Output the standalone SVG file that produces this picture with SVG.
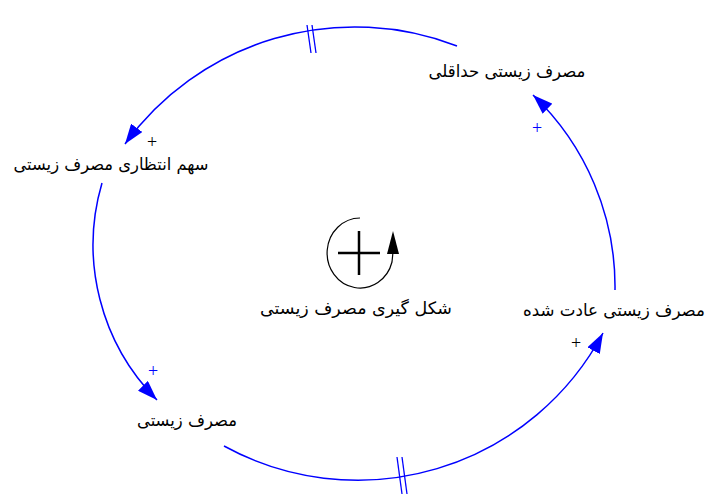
<svg xmlns="http://www.w3.org/2000/svg" width="707" height="495" viewBox="0 0 707 495">
<style>
.lbl{font-family:"DejaVu Sans","Noto Sans",sans-serif;font-size:17px;fill:#000;text-anchor:middle}
.pl{font-family:"Liberation Serif","DejaVu Serif",serif;font-size:18px;text-anchor:middle}
.link{fill:none;stroke:#0000ff;stroke-width:1.5}
.hash{stroke:#0000ff;stroke-width:1.3}
</style>
<defs>
<marker id="arr" viewBox="0 0 20 14" refX="20" refY="7" markerWidth="20" markerHeight="14" markerUnits="userSpaceOnUse" orient="auto">
<path d="M0,0 L20,7 L0,14 z" fill="#0000ff"/>
</marker>
</defs>
<rect width="707" height="495" fill="#fff"/>
<g id="connectors">
<path class="link" d="M457,46 A284,284 0 0,0 125,144" marker-end="url(#arr)"/>
<line class="hash" x1="307" y1="25" x2="311" y2="53"/>
<line class="hash" x1="312" y1="25" x2="316" y2="53"/>
<path class="link" d="M102,183 A220,220 0 0,0 157,400" marker-end="url(#arr)"/>
<path class="link" d="M224,446 A278,278 0 0,0 603,333" marker-end="url(#arr)"/>
<line class="hash" x1="397" y1="457" x2="402" y2="494"/>
<line class="hash" x1="402" y1="457" x2="407" y2="494"/>
<path class="link" d="M615,290 A265,265 0 0,0 533,95" marker-end="url(#arr)"/>
<text class="pl" x="152" y="148" fill="#000">+</text>
<text class="pl" x="153" y="377" fill="#0000ff">+</text>
<text class="pl" x="576" y="349" fill="#000">+</text>
<text class="pl" x="537" y="134" fill="#0000ff">+</text>
</g>
<g id="node-min">
<text class="lbl" x="507" y="77" textLength="157" lengthAdjust="spacingAndGlyphs">مصرف زیستی حداقلی</text>
</g>
<g id="node-share">
<text class="lbl" x="111" y="170" textLength="195" lengthAdjust="spacingAndGlyphs">سهم انتظاری مصرف زیستی</text>
</g>
<g id="node-cons">
<text class="lbl" x="187" y="426" textLength="100" lengthAdjust="spacingAndGlyphs">مصرف زیستی</text>
</g>
<g id="node-habit">
<text class="lbl" x="614" y="316" textLength="182" lengthAdjust="spacingAndGlyphs">مصرف زیستی عادت شده</text>
</g>
<g id="loop">
<path d="M360,218 A33,35 0 1,0 392,262 L393,252" fill="none" stroke="#000" stroke-width="1.2"/>
<path d="M393,231 L387,254 L399,254 z" fill="#000"/>
<line x1="338" y1="253" x2="380" y2="253" stroke="#000" stroke-width="2.5"/>
<line x1="359" y1="231" x2="359" y2="275" stroke="#000" stroke-width="2.5"/>
<text class="lbl" x="356" y="314" textLength="192" lengthAdjust="spacingAndGlyphs">شکل گیری مصرف زیستی</text>
</g>
</svg>
